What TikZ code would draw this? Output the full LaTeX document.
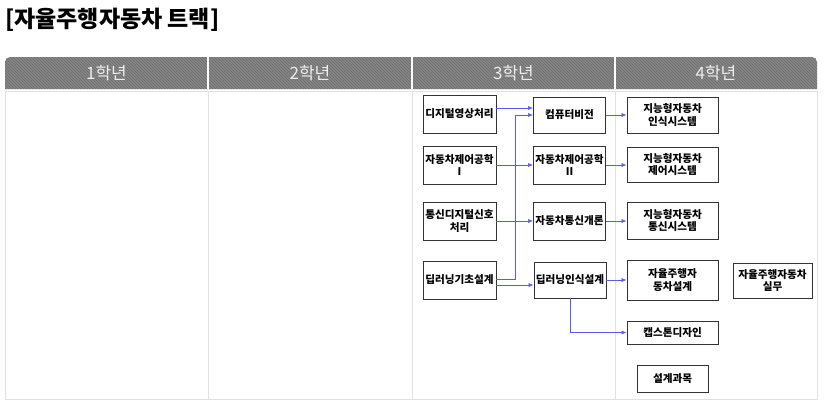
\documentclass[tikz,border=0pt]{standalone}
\usepackage{fontspec}
\newfontfamily\kr{Noto Sans CJK KR}
\usetikzlibrary{arrows.meta,patterns}

\definecolor{hdrgray}{HTML}{858585}
\definecolor{hdrline}{HTML}{6E6E6E}
\definecolor{gridgray}{HTML}{E2E2E2}
\definecolor{linkblue}{HTML}{5A5AF0}

\tikzset{
  course/.style={draw=black!80, fill=white, line width=0.8pt, align=center,
    inner sep=1pt, font=\kr\bfseries\fontsize{10.6}{12.5}\selectfont},
  yearlabel/.style={text=white!93!black, font=\kr\fontsize{17}{19}\selectfont},
  link/.style={draw=linkblue, line width=0.6pt, -{Latex[length=5pt,width=4pt]}}
}

\begin{document}
\begin{tikzpicture}[x=1pt,y=-1pt]
    \useasboundingbox (0,0) rectangle (826,416);

    % Title
    \node[anchor=west, inner sep=0pt, font=\kr\bfseries\fontsize{23}{26}\selectfont] (title) at (5,20) {[자율주행자동차 트랙]};

    % Body grid
    \draw[gridgray, line width=0.8pt] (5,91) rectangle (817,399);
    \foreach \x in {208,412,615}
        \draw[gridgray, line width=0.8pt] (\x,91) -- (\x,399);

    % Header bar (striped, rounded top corners)
    \fill[hdrgray] (5,89) [rounded corners=5pt] -- (5,57) -- (817,57) [sharp corners] -- (817,89) -- cycle;
    \fill[pattern=north west lines, pattern color=hdrline] (5,89) [rounded corners=5pt] -- (5,57) -- (817,57) [sharp corners] -- (817,89) -- cycle;
    \foreach \x in {208,412,615}
        \draw[white, line width=1.5pt] (\x,57) -- (\x,89);

    % Year labels
    \node[yearlabel] (yr1) at (106.5,73) {1학년};
    \node[yearlabel] (yr2) at (310,73) {2학년};
    \node[yearlabel] (yr3) at (513.5,73) {3학년};
    \node[yearlabel] (yr4) at (716,73) {4학년};

    % 3rd year, first semester
    \node[course, minimum width=73pt, minimum height=38pt] (dip) at (459.5,114) {디지털영상처리};
    \node[course, minimum width=73pt, minimum height=38pt] (ctlA) at (459.5,165) {자동차제어공학\\I};
    \node[course, minimum width=73pt, minimum height=38pt] (sig) at (459.5,221) {통신디지털신호\\처리};
    \node[course, minimum width=73pt, minimum height=38pt] (dlb) at (459.5,280) {딥러닝기초설계};

    % 3rd year, second semester
    \node[course, minimum width=72pt, minimum height=36pt] (cv) at (569.5,115) {컴퓨터비전};
    \node[course, minimum width=72pt, minimum height=38pt] (ctlB) at (569.5,165) {자동차제어공학\\II};
    \node[course, minimum width=72pt, minimum height=38pt] (com) at (569.5,221) {자동차통신개론};
    \node[course, minimum width=72pt, minimum height=36pt] (dlr) at (570,280) {딥러닝인식설계};

    % 4th year
    \node[course, minimum width=91pt, minimum height=36pt] (per) at (672.5,115) {지능형자동차\\인식시스템};
    \node[course, minimum width=91pt, minimum height=35pt] (ctls) at (672.5,164.5) {지능형자동차\\제어시스템};
    \node[course, minimum width=91pt, minimum height=37pt] (coms) at (672.5,220.5) {지능형자동차\\통신시스템};
    \node[course, minimum width=91pt, minimum height=40pt] (des) at (672.5,280) {자율주행자\\동차설계};
    \node[course, minimum width=79pt, minimum height=35pt] (prac) at (772.5,280.5) {자율주행자동차\\실무};
    \node[course, minimum width=91pt, minimum height=23pt] (cap) at (672.5,332.5) {캡스톤디자인};
    \node[course, minimum width=71pt, minimum height=27pt] (leg) at (672.5,378.5) {설계과목};

    % Prerequisite links
    \coordinate (jn) at (515,115);
    \draw[link] ([yshift=6pt]dip.east) -- ([yshift=6pt]dip.east -| cv.west);
    \draw[link] ([yshift=1pt]dlb.east) -| (jn) -- (cv.west);
    \draw[link] (ctlA) -- (ctlB);
    \draw[link] (sig) -- (com);
    \draw[link] ([yshift=-5pt]dlb.east) -- ([yshift=-5pt]dlb.east -| dlr.west);
    \draw[link] (cv) -- (per);
    \draw[link] (ctlB.east) -- (ctlB.east -| ctls.west);
    \draw[link] (com.east) -- (com.east -| coms.west);
    \draw[link] (dlr) -- (des);
    \draw[link] (dlr.south) |- (cap.west);
\end{tikzpicture}
\end{document}
